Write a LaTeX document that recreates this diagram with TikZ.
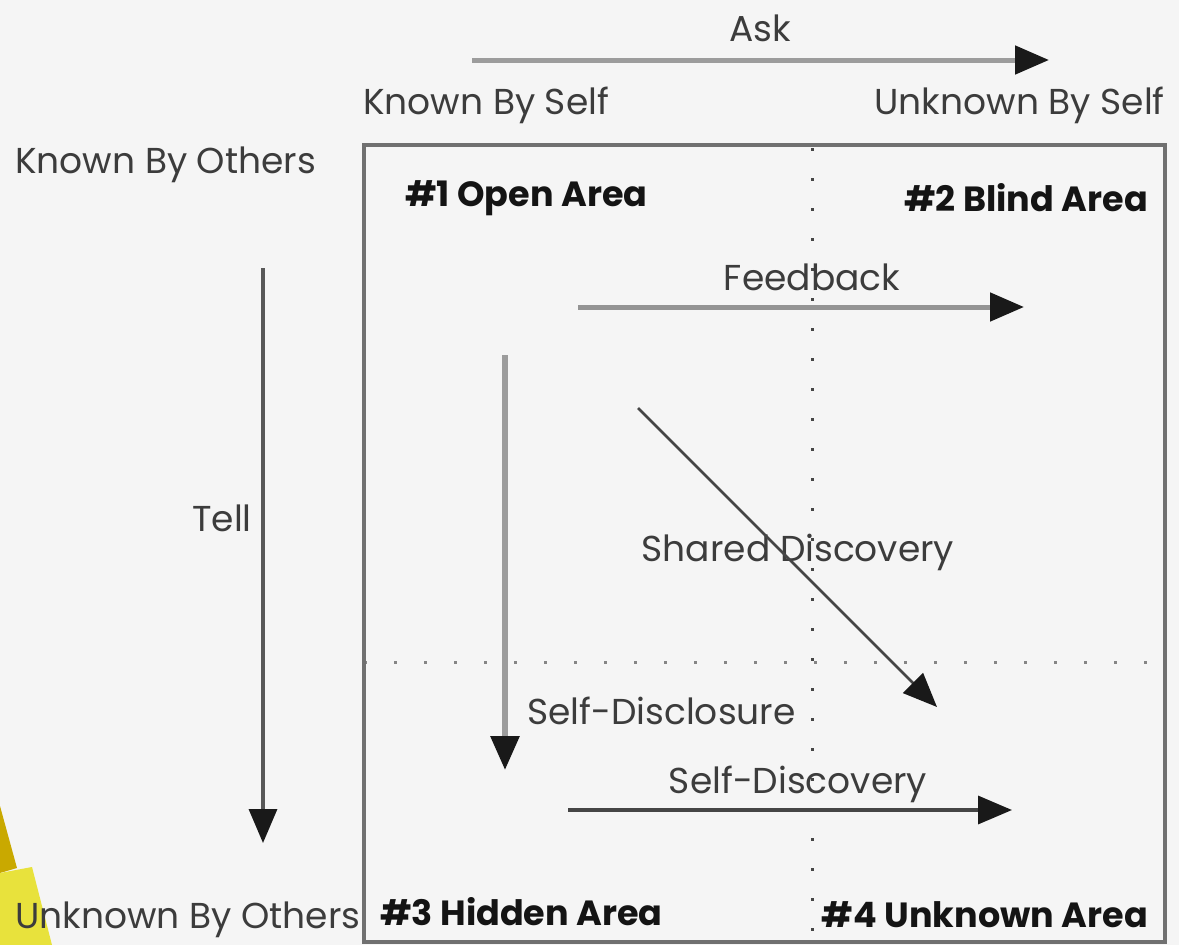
\documentclass[tikz,border=0pt]{standalone}
\usepackage{fontspec}
\setmainfont{Poppins}
\usetikzlibrary{arrows.meta}
\definecolor{bg}{HTML}{F5F5F5}
\definecolor{txt}{HTML}{3C3C3C}
\definecolor{lightline}{HTML}{9C9C9C}
\definecolor{darkline}{HTML}{454545}
\definecolor{frame}{HTML}{707070}
\definecolor{gold}{HTML}{C9A900}
\definecolor{lemon}{HTML}{E8E23C}
\begin{document}
\begin{tikzpicture}[x=1pt, y=-1pt,
        lbl/.style={text=txt, inner sep=0pt, font=\fontsize{36}{40}\selectfont},
        area/.style={text=black!92, inner sep=0pt, font=\fontsize{35}{40}\selectfont\bfseries},
        head/.style={-{Triangle[length=34pt, width=28pt, color=black!90]}},
        grayarrow/.style={head, draw=lightline, line width=5pt},
        darkarrow/.style={head, draw=darkline, line width=3.5pt},
        dots/.style={line width=3pt, dash pattern=on 3pt off 27pt}]
    \useasboundingbox (0,0) rectangle (1179,945);
    \fill[bg] (0,0) rectangle (1179,945);
    \fill[gold] (0,806) -- (17,868) -- (0,873) -- cycle;
    \fill[lemon] (0,873) -- (32,867) -- (52,945) -- (0,945) -- cycle;

    \coordinate (nw) at (364,145);
    \coordinate (se) at (1165,942);
    \draw[dots, draw=lightline!85!black] (364,662) coordinate (hl) -- (1165,662) coordinate (hr);
    \draw[dots, draw=darkline] (812,148) coordinate (vt) -- (812,942) coordinate (vb);
    \draw[frame, line width=3.5pt] (nw) rectangle (se);

    \node[lbl] (ask) at (760,28) {Ask};
    \node[lbl, anchor=west] (kself) at (363,105) {Known By Self};
    \node[lbl, anchor=east] (uself) at (1165,105) {Unknown By Self};
    \node[lbl, anchor=west] (kothers) at (15,165) {Known By Others};
    \node[lbl, anchor=west] (uothers) at (15,920) {Unknown By Others};
    \node[lbl] (tell) at (222,518) {Tell};

    \node[area, anchor=west] (open) at (405,198) {\#1 Open Area};
    \node[area, anchor=east] (blind) at (1148,198) {\#2 Blind Area};
    \node[area, anchor=west] (hidden) at (380,912) {\#3 Hidden Area};
    \node[area, anchor=east] (unknown) at (1148,915) {\#4 Unknown Area};

    \node[lbl] (feedback) at (812,277) {Feedback};
    \node[lbl] (shared) at (798,552) {Shared Discovery};
    \node[lbl, anchor=west] (disclosure) at (527,711) {Self-Disclosure};
    \node[lbl] (discovery) at (798,784) {Self-Discovery};

    \coordinate (ask1) at (472,60);
    \coordinate (ask2) at (1049,60);
    \coordinate (tell1) at (263,268);
    \coordinate (tell2) at (263,843);
    \coordinate (fb1) at (578,307);
    \coordinate (fb2) at (1024,307);
    \coordinate (sd1) at (505,355);
    \coordinate (sd2) at (505,770);
    \coordinate (sh1) at (638,408);
    \coordinate (sh2) at (937,707);
    \coordinate (sf1) at (568,810);
    \coordinate (sf2) at (1012,810);

    \draw[grayarrow] (ask1) -- (ask2);
    \draw[darkarrow, draw=darkline!90] (tell1) -- (tell2);
    \draw[grayarrow, draw=lightline!95!black] (fb1) -- (fb2);
    \draw[grayarrow, line width=6pt] (sd1) -- (sd2);
    \draw[head, draw=darkline, line width=2.5pt] (sh1) -- (sh2);
    \draw[darkarrow] (sf1) -- (sf2);
\end{tikzpicture}
\end{document}
